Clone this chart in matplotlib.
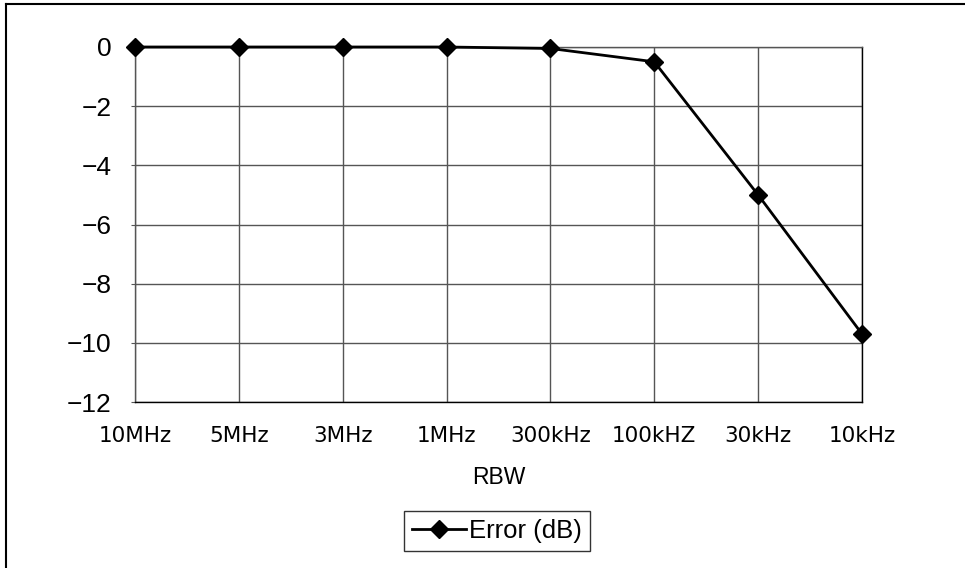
import matplotlib
matplotlib.use("Agg")
import matplotlib.pyplot as plt
from matplotlib.lines import Line2D

categories = ["10MHz", "5MHz", "3MHz", "1MHz", "300kHz", "100kHZ", "30kHz", "10kHz"]
error_db = [0.0, 0.0, 0.0, 0.0, -0.05, -0.5, -5.0, -9.7]
y_ticks = [0, -2, -4, -6, -8, -10, -12]

plt.rcParams['font.family'] = ['Liberation Sans', 'DejaVu Sans']

fig = plt.figure(figsize=(9.65, 5.68), dpi=100)
ax = fig.add_axes([135/965, 1 - 402/568, (862-135)/965, (402-47)/568])

x = list(range(len(categories)))
ax.plot(x, error_db, color='black', lw=2, marker='D', markersize=9,
        label='Error (dB)', zorder=3, clip_on=False)

ax.set_xlim(0, len(categories) - 1)
ax.set_ylim(-12, 0)
ax.set_yticks(y_ticks)
ax.set_yticklabels([("\u2212" + str(-v)) if v < 0 else str(v) for v in y_ticks], fontsize=19)
ax.set_xticks(x)
ax.set_xticklabels(categories, fontsize=15.5, family=['DejaVu Sans'])
ax.tick_params(axis='x', length=0, pad=17)
ax.tick_params(axis='y', length=3, pad=14, color='#555555')

ax.grid(True, color='#555555', lw=1)
ax.set_axisbelow(True)
for s in ax.spines.values():
    s.set_color('black')
    s.set_linewidth(1)
ax.spines['top'].set_color('#555555')
ax.spines['left'].set_color('#555555')

ax.set_xlabel('RBW', fontsize=16.5, labelpad=15)

leg = fig.legend(loc='center', bbox_to_anchor=(497/965, 1 - 531/568), fontsize=18.5,
                 frameon=True, fancybox=False, edgecolor='black', handlelength=2.1,
                 handletextpad=0.15, borderpad=0.3, borderaxespad=0)
leg.get_frame().set_linewidth(1)

fig.add_artist(Line2D([6/965, 6/965], [0, 1 - 4/568], transform=fig.transFigure, color='black', lw=1.5))
fig.add_artist(Line2D([6/965, 1], [1 - 4/568, 1 - 4/568], transform=fig.transFigure, color='black', lw=1.5))

fig.savefig('out.png', dpi=100, facecolor='white')
